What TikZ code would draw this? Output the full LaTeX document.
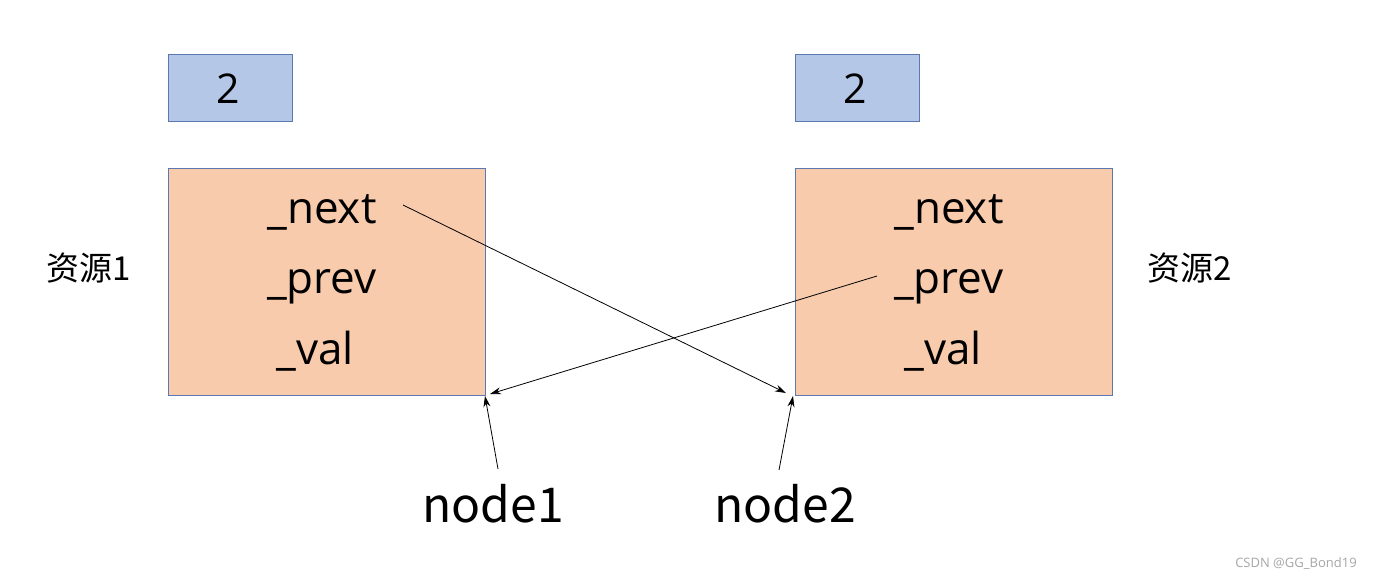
\documentclass[tikz,border=0pt]{standalone}
\usepackage{fontspec}
\setmainfont{Open Sans}
\newfontfamily\cjk{Noto Sans CJK SC}
\usetikzlibrary{arrows.meta}
\definecolor{bluefill}{HTML}{B4C7E7}
\definecolor{orangefill}{HTML}{F8CBAD}
\definecolor{boxline}{HTML}{5B78B0}
\tikzset{
  smallbox/.style={draw=boxline, fill=bluefill, line width=0.8pt, minimum width=124pt, minimum height=67pt, inner sep=0pt, anchor=north west},
  bigbox/.style={draw=boxline, fill=orangefill, line width=0.8pt, minimum width=317pt, minimum height=227pt, inner sep=0pt, anchor=north west},
  field/.style={font=\fontsize{44}{48}\selectfont, anchor=base, inner sep=0pt},
  numtxt/.style={font=\fontsize{41}{44}\selectfont, inner sep=0pt},
  side/.style={font=\cjk\fontsize{33}{36}\selectfont, inner sep=0pt},
  nodelbl/.style={font=\cjk\fontsize{48}{52}\selectfont, anchor=base, inner sep=0pt},
  conn/.style={line width=0.8pt, -{Stealth[length=11pt,width=7pt]}},
}
\begin{document}
\begin{tikzpicture}[x=1pt,y=-1pt]
\useasboundingbox (0,0) rectangle (1378,581);
% top counters
\node[smallbox] (c1) at (168,54) {};
\node[numtxt] (c1t) at (228,89) {2};
\node[smallbox] (c2) at (795,54) {};
\node[numtxt] (c2t) at (855,89) {2};
% resource boxes
\node[bigbox] (b1) at (168,168) {};
\node[bigbox] (b2) at (795,168) {};
\node[field] (n1) at (322,223) {\_next};
\node[field] (p1) at (322,293) {\_prev};
\node[field] (v1) at (315,364) {\_val};
\node[field] (n2) at (949,223) {\_next};
\node[field] (p2) at (949,293) {\_prev};
\node[field] (v2) at (943,364) {\_val};
% side labels
\node[side] (r1) at (89,268) {资源1};
\node[side] (r2) at (1190,268) {资源2};
% node labels
\node[nodelbl] (nd1) at (493,522) {node1};
\node[nodelbl] (nd2) at (785,522) {node2};
% connector endpoints
\coordinate (ns) at (403,205);
\coordinate (ne) at (786,393);
\coordinate (ps) at (877,276);
\coordinate (pe) at (490,394);
\coordinate (a1s) at (498,469);
\coordinate (a1e) at (485,396);
\coordinate (a2s) at (779,470);
\coordinate (a2e) at (793,396);
\draw[conn] (ns) -- (ne);
\draw[conn] (ps) -- (pe);
\draw[conn] (a1s) -- (a1e);
\draw[conn] (a2s) -- (a2e);
% watermark
\node[font=\fontsize{13}{15}\selectfont, text=gray!70, inner sep=0pt] (wm) at (1296,564) {CSDN @GG\_Bond19};
\end{tikzpicture}
\end{document}
